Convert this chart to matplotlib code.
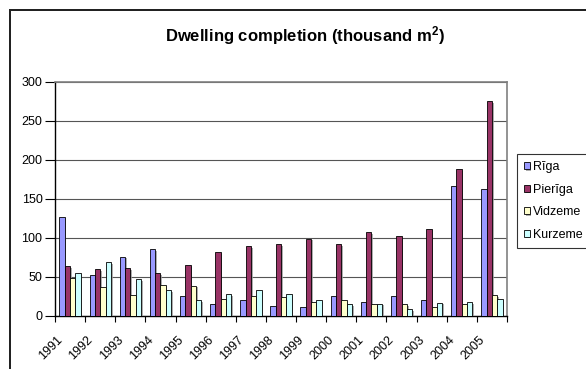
import matplotlib
matplotlib.use("Agg")
import matplotlib.pyplot as plt
import numpy as np
from matplotlib.patches import Rectangle
from matplotlib.transforms import ScaledTranslation
import matplotlib.patheffects as pe

plt.rcParams['font.family'] = ['Liberation Sans', 'DejaVu Sans']

years = ['1991', '1992', '1993', '1994', '1995', '1996', '1997', '1998', '1999',
         '2000', '2001', '2002', '2003', '2004', '2005']
riga = [127, 53, 76, 86, 26, 16, 21, 13, 12, 25, 18, 25, 21, 166, 163]
pieriga = [64, 60, 61, 55, 65, 82, 89, 92, 99, 92, 107, 102, 112, 188, 275]
vidzeme = [49, 37, 27, 40, 39, 22, 26, 24, 18, 20, 15, 15, 12, 16, 27]
kurzeme = [55, 69, 47, 33, 20, 28, 33, 28, 20, 15, 16, 9, 17, 18, 22]

series = [('Rīga', riga, '#9999FF'),
          ('Pierīga', pieriga, '#993366'),
          ('Vidzeme', vidzeme, '#FFFFCC'),
          ('Kurzeme', kurzeme, '#CCFFFF')]

fig = plt.figure(figsize=(5.86, 3.69), dpi=100)
ax = fig.add_axes([55/586, 1-316/369, (507-55)/586, (316-81.7)/369])

x = np.arange(len(years))
w = 0.177
shadow = [pe.SimplePatchShadow(offset=(1.2, -1.2), shadow_rgbFace='#999999', alpha=0.8),
          pe.Normal()]
for i, (name, vals, col) in enumerate(series):
    bars = ax.bar(x + (i - 1.5) * w, vals, width=w, color=col, edgecolor='black',
                  linewidth=0.6, label=name, zorder=3)
    for b in bars:
        b.set_path_effects(shadow)

ax.set_xlim(-0.5, len(years) - 0.5)
ax.set_ylim(0, 300)
ax.set_yticks(range(0, 301, 50))
ax.yaxis.grid(True, color='#555555', linewidth=0.8, zorder=0)
ax.set_xticks(np.arange(-0.5, len(years), 1.0))
ax.set_xticklabels([])
ax.tick_params(axis='x', which='major', length=4, width=0.8, direction='out')
ax.tick_params(axis='y', length=7, width=0.8, labelsize=9, pad=2)
for s in ['left', 'bottom']:
    ax.spines[s].set_color('black')
    ax.spines[s].set_linewidth(1.0)
for s in ['top', 'right']:
    ax.spines[s].set_color('#808080')
    ax.spines[s].set_linewidth(1.2)

off = ScaledTranslation(-19/100, -32/100, fig.dpi_scale_trans)
for xi, yr in zip(x, years):
    ax.text(xi, 0, yr, transform=ax.get_xaxis_transform() + off, rotation=45,
            ha='center', va='center', rotation_mode='anchor', fontsize=9)

fig.text(305/586, 1-36/369, 'Dwelling completion (thousand m$\\mathregular{^2}$)',
         ha='center', va='center', fontsize=12, fontweight='bold')

leg = ax.legend(loc='upper left', bbox_to_anchor=(516.5/586, 1-153.5/369),
                bbox_transform=fig.transFigure, fontsize=9, frameon=True,
                fancybox=False, edgecolor='black', handlelength=0.45,
                handleheight=0.45, handletextpad=0.3, labelspacing=0.85,
                borderpad=0.6, borderaxespad=0)
leg.get_frame().set_linewidth(0.8)

# outer chart frame (left and top edges visible)
fig.add_artist(Rectangle((9/586, 0), 2/586, 1 - 9/369, transform=fig.transFigure,
                         facecolor='#222222', edgecolor='none', zorder=10))
fig.add_artist(Rectangle((9/586, 1 - 11/369), 1.0, 2/369, transform=fig.transFigure,
                         facecolor='#222222', edgecolor='none', zorder=10))

fig.savefig('out.png', dpi=100)
